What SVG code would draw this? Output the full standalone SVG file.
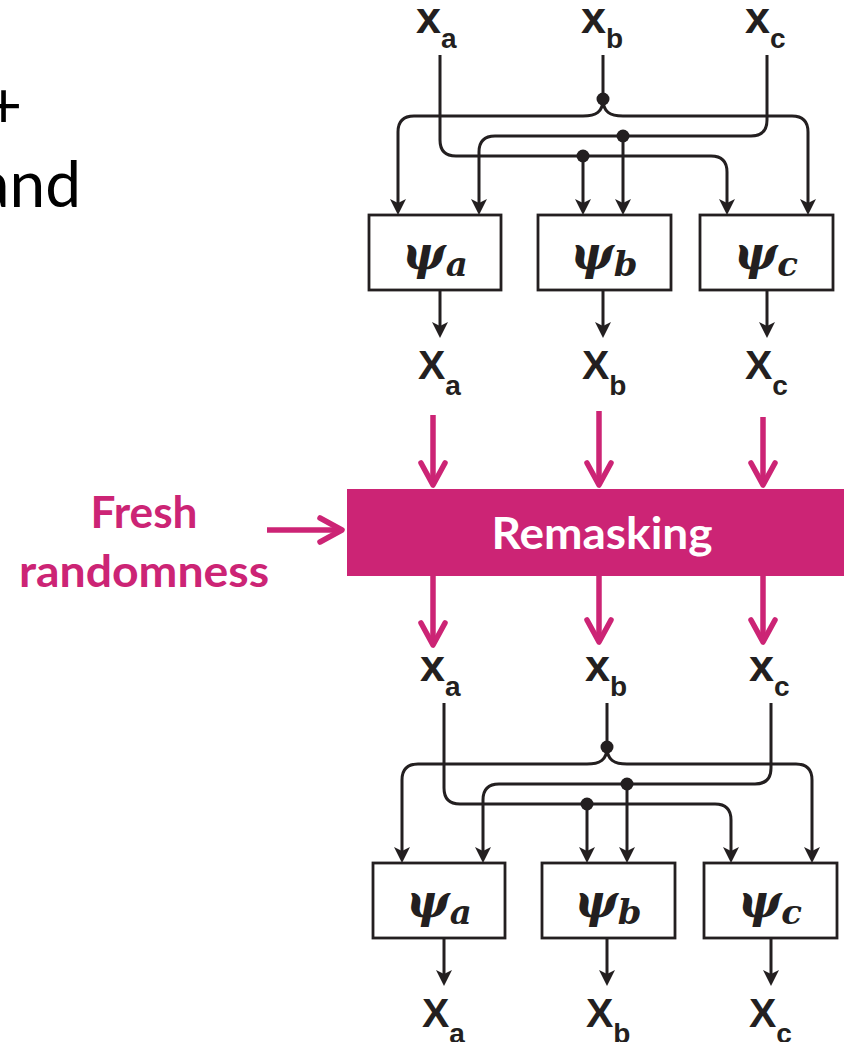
<svg xmlns="http://www.w3.org/2000/svg" width="844" height="1042" viewBox="0 0 844 1042">
<style>
.ln{fill:none;stroke:#231F20;stroke-width:3}
.ar{marker-end:url(#ah)}
.box{fill:#fff;stroke:#231F20;stroke-width:2.8}
.dot{fill:#231F20}
.lx{font-family:"Liberation Sans",Arial,sans-serif;font-weight:bold;fill:#231F20;font-size:45px}
.ux{font-size:41px}
.sub{font-size:28px}
.psi{font-family:"DejaVu Serif","Liberation Serif",serif;font-weight:bold;font-style:italic;font-size:46px;fill:#231F20;text-anchor:middle}
.psub{font-size:34px}
.mg{fill:none;stroke:#CC2475;stroke-width:5.5;marker-end:url(#ch)}
.mt{font-family:Lato,"Liberation Sans",sans-serif;font-weight:bold;font-size:44px;fill:#CC2475;text-anchor:middle}
.wt{fill:#fff}
.body{font-family:Lato,"Liberation Sans",sans-serif;font-size:64px;fill:#000;text-anchor:end}
</style>
<defs>
<marker id="ah" markerUnits="userSpaceOnUse" viewBox="0 -8 16 16" refX="4" refY="0" markerWidth="16" markerHeight="16" orient="auto"><path d="M0,-8 L16,0 L0,8 L4,0 Z" fill="#231F20"/></marker>
<marker id="ch" markerUnits="userSpaceOnUse" viewBox="-30 -20 40 40" refX="0" refY="0" markerWidth="40" markerHeight="40" orient="auto" overflow="visible"><path d="M-22,-12 L0,0 L-22,12" fill="none" stroke="#CC2475" stroke-width="5.5" stroke-linecap="round" stroke-linejoin="round"/></marker>
</defs>

<g id="side-text">
<text class="body" x="22" y="128">+</text>
<text class="body" x="81" y="207">and</text>
</g>

<g id="stage1">
<g id="connectors-1">
<path class="ln ar" d="M440,55 V140 Q440,156 456,156 H711 Q727,156 727,172 V203"/>
<path class="ln" d="M603,55 V99"/>
<path class="ln ar" d="M603,99 C603,112 596,116 583,116 H414 Q398,116 398,132 V203"/>
<path class="ln ar" d="M603,99 C603,112 610,116 623,116 H792 Q808,116 808,132 V203"/>
<path class="ln ar" d="M767,55 V120 Q767,136 751,136 H495 Q479,136 479,152 V203"/>
<path class="ln ar" d="M623,136 V203"/>
<path class="ln ar" d="M583,156 V203"/>
<circle class="dot" cx="603" cy="99" r="6.5"/>
<circle class="dot" cx="623" cy="136" r="6.5"/>
<circle class="dot" cx="583" cy="156" r="6.5"/>
<path class="ln ar" d="M440,290 V326"/>
<path class="ln ar" d="M603,290 V326"/>
<path class="ln ar" d="M767,290 V326"/>
</g>
<g id="in-xa-1"><text class="lx" x="416" y="33">x<tspan class="sub" dy="15">a</tspan></text></g>
<g id="in-xb-1"><text class="lx" x="581" y="33">x<tspan class="sub" dy="15">b</tspan></text></g>
<g id="in-xc-1"><text class="lx" x="745" y="33">x<tspan class="sub" dy="15">c</tspan></text></g>
<g id="psi-a-1"><rect class="box" x="369" y="215" width="132" height="75"/><text class="psi" x="435" y="269">ψ<tspan class="psub" dy="7">a</tspan></text></g>
<g id="psi-b-1"><rect class="box" x="538" y="215" width="133" height="75"/><text class="psi" x="604" y="269">ψ<tspan class="psub" dy="7">b</tspan></text></g>
<g id="psi-c-1"><rect class="box" x="700" y="215" width="133" height="75"/><text class="psi" x="766" y="269">ψ<tspan class="psub" dy="7">c</tspan></text></g>
<g id="out-Xa-1"><text class="lx ux" x="418" y="379">X<tspan class="sub" dy="16">a</tspan></text></g>
<g id="out-Xb-1"><text class="lx ux" x="582" y="379">X<tspan class="sub" dy="16">b</tspan></text></g>
<g id="out-Xc-1"><text class="lx ux" x="745" y="379">X<tspan class="sub" dy="16">c</tspan></text></g>
</g>

<g id="remasking-stage">
<g id="connectors-remask">
<path class="mg" d="M433,415 V485"/>
<path class="mg" d="M599,411 V485"/>
<path class="mg" d="M763,417 V485"/>
<path class="mg" d="M433,576 V645"/>
<path class="mg" d="M599,576 V642"/>
<path class="mg" d="M763,576 V642"/>
<path class="mg" d="M267,530 H342"/>
</g>
<g id="fresh-randomness"><text class="mt" x="144" y="528" textLength="107" lengthAdjust="spacingAndGlyphs">Fresh</text><text class="mt" x="144" y="587" textLength="250" lengthAdjust="spacingAndGlyphs">randomness</text></g>
<g id="remasking"><rect x="347" y="489" width="500" height="87" fill="#CC2475"/><text class="mt wt" x="602" y="549" textLength="221" lengthAdjust="spacingAndGlyphs">Remasking</text></g>
</g>

<g id="stage2" transform="translate(4,648)">
<g id="connectors-2">
<path class="ln ar" d="M440,55 V140 Q440,156 456,156 H711 Q727,156 727,172 V203"/>
<path class="ln" d="M603,55 V99"/>
<path class="ln ar" d="M603,99 C603,112 596,116 583,116 H414 Q398,116 398,132 V203"/>
<path class="ln ar" d="M603,99 C603,112 610,116 623,116 H792 Q808,116 808,132 V203"/>
<path class="ln ar" d="M767,55 V120 Q767,136 751,136 H495 Q479,136 479,152 V203"/>
<path class="ln ar" d="M623,136 V203"/>
<path class="ln ar" d="M583,156 V203"/>
<circle class="dot" cx="603" cy="99" r="6.5"/>
<circle class="dot" cx="623" cy="136" r="6.5"/>
<circle class="dot" cx="583" cy="156" r="6.5"/>
<path class="ln ar" d="M440,290 V326"/>
<path class="ln ar" d="M603,290 V326"/>
<path class="ln ar" d="M767,290 V326"/>
</g>
<g id="in-xa-2"><text class="lx" x="416" y="33">x<tspan class="sub" dy="15">a</tspan></text></g>
<g id="in-xb-2"><text class="lx" x="581" y="33">x<tspan class="sub" dy="15">b</tspan></text></g>
<g id="in-xc-2"><text class="lx" x="745" y="33">x<tspan class="sub" dy="15">c</tspan></text></g>
<g id="psi-a-2"><rect class="box" x="369" y="215" width="132" height="75"/><text class="psi" x="435" y="269">ψ<tspan class="psub" dy="7">a</tspan></text></g>
<g id="psi-b-2"><rect class="box" x="538" y="215" width="133" height="75"/><text class="psi" x="604" y="269">ψ<tspan class="psub" dy="7">b</tspan></text></g>
<g id="psi-c-2"><rect class="box" x="700" y="215" width="133" height="75"/><text class="psi" x="766" y="269">ψ<tspan class="psub" dy="7">c</tspan></text></g>
<g id="out-Xa-2"><text class="lx ux" x="418" y="379">X<tspan class="sub" dy="16">a</tspan></text></g>
<g id="out-Xb-2"><text class="lx ux" x="582" y="379">X<tspan class="sub" dy="16">b</tspan></text></g>
<g id="out-Xc-2"><text class="lx ux" x="745" y="379">X<tspan class="sub" dy="16">c</tspan></text></g>
</g>
</svg>
